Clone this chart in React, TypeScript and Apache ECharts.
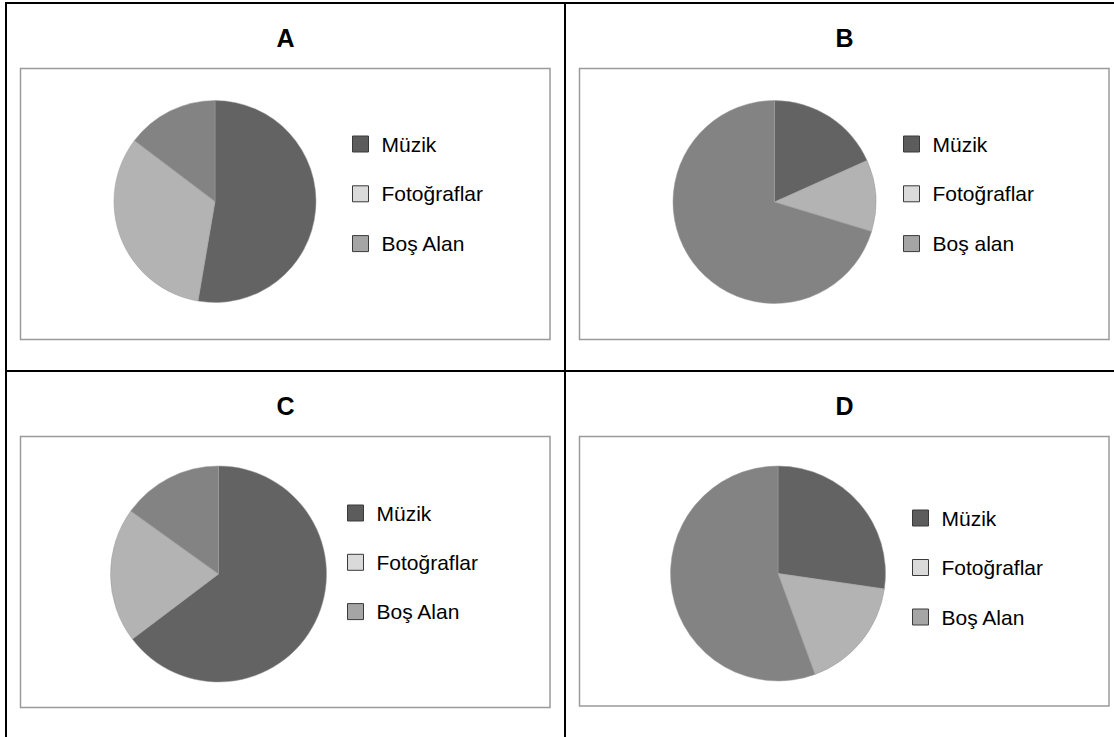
import React, { useEffect, useRef } from "react";
import * as echarts from "echarts";

// ---- Data ----
const panelTitles = ["A", "B", "C", "D"];
const categories = ["Müzik", "Fotoğraflar", "Boş Alan"];
const categoriesB = ["Müzik", "Fotoğraflar", "Boş alan"];
const valuesA = [52.7, 32.6, 14.7];
const valuesB = [18.3, 11.4, 70.3];
const valuesC = [64.7, 20.2, 15.1];
const valuesD = [27.3, 17.1, 55.6];

// ---- Styles ----
const sliceColors = ["#636363", "#b3b3b3", "#838383"];
const swatchColors = ["#5c5c5c", "#dadada", "#a5a5a5"];
const FONT = "'Liberation Sans', Arial, sans-serif";

type Panel = {
  title: string;
  names: string[];
  values: number[];
  titleX: number;
  titleY: number;
  box: [number, number, number, number];
  center: [number, number];
  radius: number;
  legendLeft: number;
  legendTop: number;
  legendGap: number;
};

const panels: Panel[] = [
  {
    title: panelTitles[0], names: categories, values: valuesA,
    titleX: 285.5, titleY: 37.5, box: [20.5, 68.5, 529.5, 271],
    center: [215, 201.5], radius: 101,
    legendLeft: 352, legendTop: 133.5, legendGap: 28.8,
  },
  {
    title: panelTitles[1], names: categoriesB, values: valuesB,
    titleX: 844.5, titleY: 37.5, box: [579.5, 68.5, 529.5, 271],
    center: [774.5, 202], radius: 101.5,
    legendLeft: 903, legendTop: 133.5, legendGap: 28.8,
  },
  {
    title: panelTitles[2], names: categories, values: valuesC,
    titleX: 285.5, titleY: 405.5, box: [20.5, 436.5, 529.5, 271],
    center: [218.5, 574], radius: 108,
    legendLeft: 347, legendTop: 502.5, legendGap: 28.3,
  },
  {
    title: panelTitles[3], names: categories, values: valuesD,
    titleX: 844.5, titleY: 405.5, box: [579.5, 436.5, 529.5, 269.5],
    center: [778, 573.5], radius: 107.5,
    legendLeft: 912, legendTop: 507.5, legendGap: 28.5,
  },
];

export default function App() {
  const ref = useRef<HTMLDivElement>(null);

  useEffect(() => {
    if (!ref.current) return;
    const chart = echarts.init(ref.current, undefined, { renderer: "svg" });

    const graphics: any[] = [];
    // outer table lines
    graphics.push(
      { type: "line", silent: true, shape: { x1: 6, y1: 3, x2: 1114, y2: 3 }, style: { stroke: "#000", lineWidth: 2 } },
      { type: "line", silent: true, shape: { x1: 6, y1: 2, x2: 6, y2: 737 }, style: { stroke: "#000", lineWidth: 2 } },
      { type: "line", silent: true, shape: { x1: 565, y1: 2, x2: 565, y2: 737 }, style: { stroke: "#000", lineWidth: 2 } },
      { type: "line", silent: true, shape: { x1: 5, y1: 371, x2: 1114, y2: 371 }, style: { stroke: "#000", lineWidth: 2 } }
    );
    panels.forEach((p) => {
      graphics.push({
        type: "rect",
        silent: true,
        z: -1,
        shape: { x: p.box[0], y: p.box[1], width: p.box[2], height: p.box[3] },
        style: { fill: "#fff", stroke: "#9a9a9a", lineWidth: 1.5 },
      });
      graphics.push({
        type: "text",
        silent: true,
        x: p.titleX,
        y: p.titleY,
        style: {
          text: p.title,
          fill: "#000",
          font: `bold 25px ${FONT}`,
          align: "center",
          verticalAlign: "middle",
        },
      });
    });

    const option: any = {
      animation: false,
      backgroundColor: "#fff",
      graphic: graphics,
      legend: panels.map((p) => ({
        orient: "vertical",
        left: p.legendLeft,
        top: p.legendTop,
        padding: 0,
        itemGap: p.legendGap,
        itemWidth: 16,
        itemHeight: 16,
        icon: "rect",
        selectedMode: false,
        textStyle: {
          fontFamily: FONT,
          fontSize: 21,
          color: "#000",
          padding: [0, 0, 0, 8],
        },
        data: p.names.map((n, i) => ({
          name: n,
          itemStyle: { color: swatchColors[i], borderColor: "#3a3a3a", borderWidth: 1 },
        })),
      })),
      series: panels.map((p) => ({
        type: "pie",
        center: p.center,
        radius: p.radius,
        startAngle: 90,
        clockwise: true,
        silent: true,
        label: { show: false },
        labelLine: { show: false },
        emphasis: { disabled: true },
        itemStyle: { borderColor: "#9c9c9c", borderWidth: 0.5 },
        data: p.names.map((n, i) => ({
          name: n,
          value: p.values[i],
          itemStyle: { color: sliceColors[i] },
        })),
      })),
    };

    chart.setOption(option);
    return () => chart.dispose();
  }, []);

  return (
    <div
      ref={ref}
      style={{ position: "fixed", left: 0, top: 0, width: 1114, height: 737, background: "#fff" }}
    />
  );
}
